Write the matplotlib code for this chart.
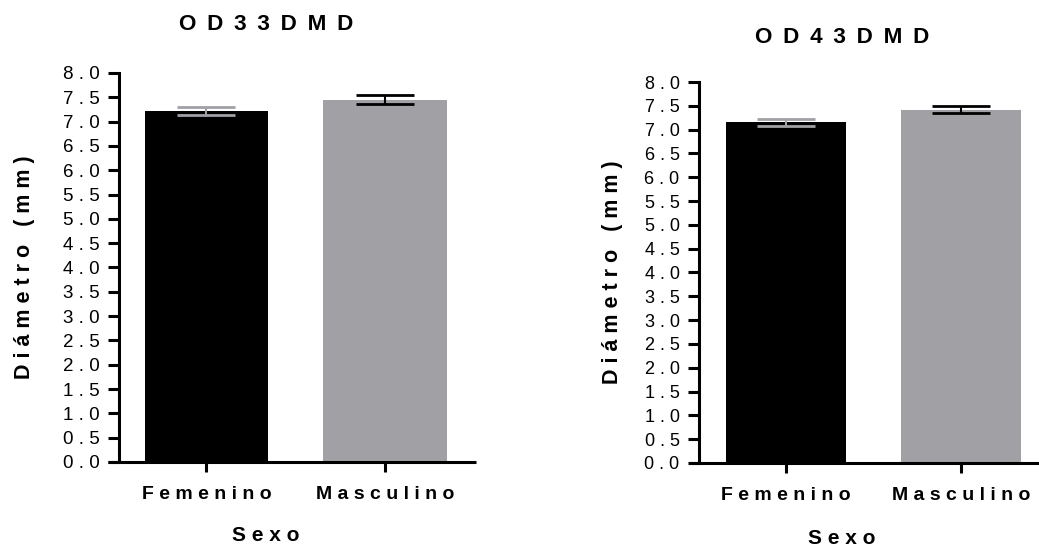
import numpy as np
import matplotlib
matplotlib.use("Agg")
import matplotlib.pyplot as plt
from matplotlib.ticker import FixedLocator, FuncFormatter

plt.rcParams['font.family'] = ['Liberation Sans', 'DejaVu Sans']

# Datos
categorias = ["Femenino", "Masculino"]
titulos = ["OD33DMD", "OD43DMD"]
medias_33 = [7.22, 7.45]
sem_33 = [0.08, 0.09]
medias_43 = [7.15, 7.42]
sem_43 = [0.07, 0.08]
y_ticks = np.arange(0, 8.01, 0.5)

colores = ["#000000", "#a1a0a5"]
colores_err = ["#a1a0a5", "#000000"]


def espaciar(s, sep=" "):
    # Prism exporta el texto con espaciado entre letras
    return sep.join(list(s))


def dibujar(ax, medias, sem, titulo, x_title, y_title, xlim, lab_x, lab_y, fs):
    x = np.arange(len(categorias))
    ax.bar(x, medias, width=0.69, color=colores, zorder=2)
    for i in range(len(x)):
        ax.errorbar(x[i], medias[i], yerr=sem[i], fmt="none", ecolor=colores_err[i],
                    elinewidth=1.5, capsize=21, capthick=2.0, zorder=3)
    ax.set_xlim(*xlim)
    ax.set_ylim(0, 8)
    ax.yaxis.set_major_locator(FixedLocator(y_ticks))
    ax.yaxis.set_major_formatter(FuncFormatter(lambda v, p: espaciar(f"{v:.1f}")))
    ax.set_xticks(x)
    ax.set_xticklabels([espaciar(c) for c in categorias], fontweight="bold", fontsize=14)
    ax.tick_params(axis="y", length=8, width=2.2, pad=6, labelsize=fs)
    ax.tick_params(axis="x", length=7.5, width=2.2, pad=10)
    for s in ["top", "right"]:
        ax.spines[s].set_visible(False)
    for s in ["left", "bottom"]:
        ax.spines[s].set_linewidth(2.2)
    ext = 0.062 * (xlim[1] - xlim[0]) / 2.0
    ax.spines["bottom"].set_bounds(xlim[0] - ext, xlim[1])
    ax.spines["bottom"].set_capstyle("butt")
    ax.set_ylabel(espaciar("Diámetro (mm)"), fontweight="bold", fontsize=15.5)
    ax.yaxis.set_label_coords(lab_y, 0.5)
    ax.set_xlabel(espaciar("Sexo"), fontweight="bold", fontsize=15)
    ax.xaxis.set_label_coords(lab_x[0], lab_x[1])
    ax.figure.text(x_title, y_title, espaciar(titulo, " \u2009"), ha="center", va="center",
                   fontweight="bold", fontsize=16.2)


fig = plt.figure(figsize=(10.39, 5.5), dpi=100)
ax1 = fig.add_axes([0.1145, 0.16, 0.3436, 0.7073])
ax2 = fig.add_axes([0.6728, 0.1582, 0.3272, 0.6927])

dibujar(ax1, medias_33, sem_33, titulos[0], 266 / 1039, 1 - 25 / 550, (-0.49, 1.51),
        (0.41, -0.165), -0.235, 13.5)
dibujar(ax2, medias_43, sem_43, titulos[1], 842 / 1039, 1 - 37.5 / 550, (-0.497, 1.446),
        (0.42, -0.173), -0.224, 13)

fig.savefig("out.png", dpi=100)
